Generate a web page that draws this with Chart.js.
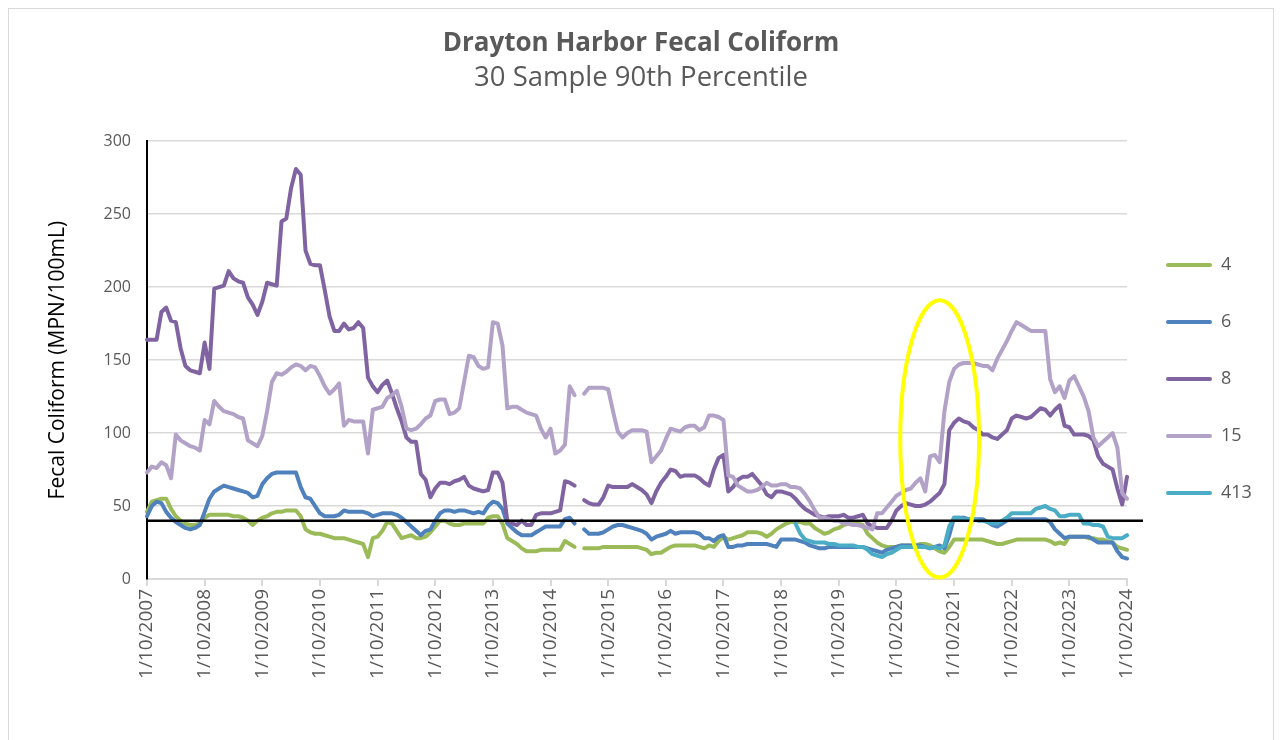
<!DOCTYPE html>
<html>
<head>
<meta charset="utf-8">
<title>Drayton Harbor Fecal Coliform</title>
<script src="https://cdn.jsdelivr.net/npm/chart.js@4.4.1/dist/chart.umd.min.js"></script>
<style>
  html, body { margin: 0; padding: 0; background: #fff; }
  #box { position: absolute; left: 8px; top: 8px; width: 1264px; height: 760px; border: 1px solid #d9d9d9; }
  canvas { display: block; }
</style>
</head>
<body>
<div id="box"><canvas id="myChart" width="1264" height="740"></canvas></div>
<script>
// sample stations, one value per month from 1/10/2007 to 1/10/2024
const stations = ["4", "6", "8", "15", "413"]
const years = [2007, 2008, 2009, 2010, 2011, 2012, 2013, 2014, 2015, 2016, 2017, 2018, 2019, 2020, 2021, 2022, 2023]
const lastLabel = "1/10/2024"

const site4 = [
  46,53,54,55,55,48,43,40,38,37,37,38,
  42,44,44,44,44,44,43,43,42,40,37,40,
  42,43,45,46,46,47,47,47,43,34,32,31,
  31,30,29,28,28,28,27,26,25,24,15,28,
  29,33,39,38,33,28,29,30,28,28,29,32,
  36,40,40,38,37,37,38,38,38,38,38,42,
  43,43,38,28,26,24,21,19,19,19,20,20,
  20,20,20,26,24,22,null,21,21,21,21,22,
  22,22,22,22,22,22,22,21,20,17,18,18,
  20,22,23,23,23,23,23,22,21,23,22,26,
  29,27,28,29,30,32,32,32,31,29,31,34,
  36,38,39,39,39,38,38,35,33,31,32,34,
  35,37,38,38,38,37,31,28,25,23,22,22,
  22,23,23,23,23,24,24,23,21,19,18,22,
  27,27,27,27,27,27,27,26,25,24,24,25,
  26,27,27,27,27,27,27,27,26,24,25,24,
  29,29,29,29,28,28,27,27,26,25,22,21,
  20
]
const site6 = [
  43,50,53,52,46,42,39,37,35,34,35,37,
  46,55,60,62,64,63,62,61,60,59,56,57,
  65,69,72,73,73,73,73,73,63,56,55,50,
  45,43,43,43,44,47,46,46,46,46,45,43,
  44,45,45,45,44,42,39,36,33,30,33,34,
  40,45,47,47,46,47,47,46,45,46,45,50,
  53,52,48,38,35,32,30,30,30,32,34,36,
  36,36,36,41,42,38,null,34,31,31,31,32,
  34,36,37,37,36,35,34,33,31,27,29,30,
  31,33,31,32,32,32,32,31,28,28,26,29,
  30,22,22,23,23,24,24,24,24,24,23,22,
  27,27,27,27,26,25,23,22,21,21,22,22,
  22,22,22,22,22,22,21,20,19,18,20,21,
  22,23,23,23,23,23,22,21,22,23,21,30,
  42,42,42,41,41,41,41,39,37,36,38,40,
  41,41,41,41,41,41,41,41,39,34,31,28,
  29,29,29,29,29,27,25,25,25,25,19,15,
  14
]
const site8 = [
  164,164,164,183,186,177,176,158,146,143,142,141,
  162,144,199,200,201,211,206,204,203,193,188,181,
  190,203,202,201,245,247,268,281,277,225,216,215,
  215,198,180,170,170,175,171,172,176,172,138,132,
  128,133,136,127,117,108,97,94,94,72,68,56,
  62,66,66,65,67,68,70,64,62,61,60,61,
  73,73,66,40,38,37,40,37,37,44,45,45,
  45,46,47,67,66,64,null,54,52,51,51,56,
  64,63,63,63,63,65,63,61,58,52,60,66,
  70,75,74,70,71,71,71,69,66,64,75,83,
  85,60,63,68,70,70,72,68,64,58,56,60,
  60,59,58,55,51,48,46,44,43,42,43,43,
  43,44,42,42,43,44,38,36,35,35,35,40,
  47,50,52,51,50,50,51,53,56,59,65,102,
  107,110,108,107,104,102,99,99,97,96,99,102,
  110,112,111,110,111,114,117,116,112,116,119,105,
  104,99,99,99,98,95,84,79,77,75,62,51,
  70
]
const site15 = [
  73,77,76,80,78,69,99,95,93,91,90,88,
  109,106,122,118,115,114,113,111,110,95,93,91,
  98,115,135,141,140,142,145,147,146,143,146,145,
  139,132,127,130,134,105,109,108,108,108,86,116,
  117,118,124,126,129,118,103,102,103,106,110,112,
  122,123,123,113,114,117,135,153,152,146,144,145,
  176,175,160,117,118,118,116,114,113,112,103,97,
  103,86,88,92,132,126,null,127,131,131,131,131,
  130,115,101,97,100,102,102,102,101,80,84,88,
  96,103,102,101,104,105,105,102,104,112,112,111,
  109,71,70,64,62,60,60,61,63,66,64,64,
  65,65,63,63,62,58,53,47,42,42,41,40,
  40,38,38,37,37,36,35,34,45,45,49,53,
  57,59,61,62,66,69,60,84,85,80,115,135,
  144,147,148,148,148,147,146,146,143,151,157,163,
  170,176,174,172,170,170,170,170,137,128,132,124,
  136,139,132,125,115,97,91,94,97,100,90,59,
  55
]
const site413 = [
  null,null,null,null,null,null,null,null,null,null,null,null,
  null,null,null,null,null,null,null,null,null,null,null,null,
  null,null,null,null,null,null,null,null,null,null,null,null,
  null,null,null,null,null,null,null,null,null,null,null,null,
  null,null,null,null,null,null,null,null,null,null,null,null,
  null,null,null,null,null,null,null,null,null,null,null,null,
  null,null,null,null,null,null,null,null,null,null,null,null,
  null,null,null,null,null,null,null,null,null,null,null,null,
  null,null,null,null,null,null,null,null,null,null,null,null,
  null,null,null,null,null,null,null,null,null,null,null,null,
  null,null,null,null,null,null,null,null,null,null,null,null,
  null,null,null,38,31,27,26,25,25,25,24,24,
  23,23,23,23,22,22,20,17,16,15,17,18,
  20,22,22,22,22,22,22,21,22,21,23,36,
  42,42,41,41,41,40,40,39,38,38,40,42,
  45,45,45,45,45,48,49,50,48,47,43,43,
  44,44,44,38,38,37,37,36,29,28,28,28,
  30
]
const stationColors = ["#9BBB59", "#4F81BD", "#8064A2", "#B3A2C7", "#4BACC6"]

// shellfish standard line and the highlighted period
const standardLimit = 40
const highlightMonth = 165
const highlightValue = 96
const highlightMonths = 8.2
const highlightRange = 95

dateLabels = []
years.forEach(y => {
    for (let m = 1; m <= 12; m++) {
        dateLabels.push(m + "/10/" + y)
    }
})
dateLabels.push(lastLabel)

const seriesData = [site4, site6, site8, site15, site413]

Chart.defaults.font.family = "'Open Sans', sans-serif"
Chart.defaults.color = "#595959"

const overlays = {
    id: "overlays",
    beforeLayout(chart) {
        // widen the legend column so the plot stops where the original does
        const lg = chart.legend
        if (lg && !lg.patched) {
            lg.patched = true
            const fit = lg.fit.bind(lg)
            lg.fit = function () {
                fit()
                this.width = 146
            }
        }
    },
    afterDatasetsDraw(chart) {
        const ctx = chart.ctx
        const area = chart.chartArea
        const x = chart.scales.x
        const y = chart.scales.y
        ctx.save()
        const yl = y.getPixelForValue(standardLimit)
        ctx.strokeStyle = "#000000"
        ctx.lineWidth = 2.5
        ctx.beginPath()
        ctx.moveTo(area.left, yl)
        ctx.lineTo(area.right + 16, yl)
        ctx.stroke()

        const cx = x.getPixelForValue(highlightMonth)
        const cy = y.getPixelForValue(highlightValue)
        const rx = x.getPixelForValue(highlightMonth + highlightMonths) - cx
        const ry = cy - y.getPixelForValue(highlightValue + highlightRange)
        ctx.strokeStyle = "#FFFF00"
        ctx.lineWidth = 4
        ctx.beginPath()
        ctx.ellipse(cx, cy, rx, ry, 0, 0, Math.PI * 2)
        ctx.stroke()
        ctx.restore()
    }
}

let myChart = document.getElementById("myChart")
let lineChart = new Chart(myChart, {
    type: "line",
    data: {
        labels: dateLabels,
        datasets: stations.map((name, i) => ({
            label: name,
            data: seriesData[i],
            borderColor: stationColors[i],
            backgroundColor: stationColors[i],
            borderWidth: 4,
            borderJoinStyle: "round",
            borderCapStyle: "round",
            pointRadius: 0,
            tension: 0,
            spanGaps: false,
            order: stations.length - i
        }))
    },
    options: {
        responsive: false,
        animation: false,
        layout: { padding: 0 },
        plugins: {
            title: {
                display: true,
                text: "Drayton Harbor Fecal Coliform",
                color: "#595959",
                font: { size: 26, weight: "bold" },
                padding: { top: 19, bottom: 1 }
            },
            subtitle: {
                display: true,
                text: "30 Sample 90th Percentile",
                color: "#595959",
                font: { size: 27.5, weight: "normal" },
                padding: { top: 1, bottom: 47 }
            },
            legend: {
                position: "right",
                labels: {
                    boxWidth: 46,
                    boxHeight: 4,
                    padding: 39,
                    color: "#595959",
                    font: { size: 18 },
                    useBorderRadius: true,
                    borderRadius: 2,
                    sort: (a, b) => a.datasetIndex - b.datasetIndex,
                    generateLabels(chart) {
                        const items = Chart.defaults.plugins.legend.labels.generateLabels(chart)
                        items.forEach(it => { it.lineWidth = 0; it.fillStyle = it.strokeStyle })
                        return items
                    }
                }
            },
            tooltip: { enabled: false }
        },
        scales: {
            x: {
                type: "category",
                offset: false,
                afterBuildTicks: s => { s.ticks = s.ticks.filter(t => t.value % 12 === 0) },
                afterFit: s => { s.height = 170 },
                grid: { drawOnChartArea: false, drawTicks: true, tickLength: 7, color: "#d9d9d9", lineWidth: 2 },
                border: { color: "#d9d9d9", width: 2 },
                ticks: { autoSkip: false, minRotation: 90, maxRotation: 90, padding: 3, color: "#595959", font: { size: 19 } }
            },
            y: {
                min: 0,
                max: 300,
                afterFit: s => { s.width = 138 },
                grid: { color: "#d9d9d9", lineWidth: 1.5, drawTicks: false },
                border: { color: "#000000", width: 2 },
                ticks: { stepSize: 50, padding: 16, color: "#595959", font: { size: 16 } },
                title: {
                    display: true,
                    text: "Fecal Coliform (MPN/100mL)",
                    color: "#000000",
                    font: { size: 21 },
                    padding: { top: 36, bottom: 0 }
                }
            }
        }
    },
    plugins: [overlays]
})
</script>
</body>
</html>
